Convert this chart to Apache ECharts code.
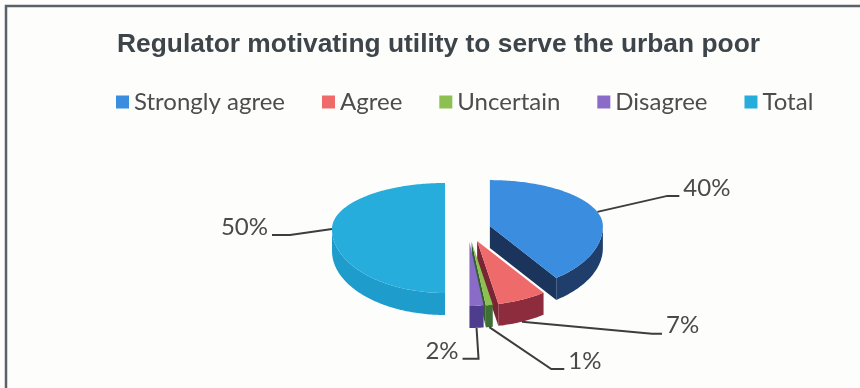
<!DOCTYPE html>
<html>
<head>
<meta charset="utf-8">
<script src="https://cdn.jsdelivr.net/npm/echarts@6/dist/echarts.min.js"></script>
<style>
  html, body { margin: 0; padding: 0; background: #fdfdfc; }
  #chart { width: 860px; height: 388px; }
</style>
</head>
<body>
<div id="chart"></div>
<script>
// Survey responses, share of respondents (%)
const categories = ['Strongly agree', 'Agree', 'Uncertain', 'Disagree', 'Total'];
const shares = [40, 7, 1, 2, 50];
const labelTexts = ['40%', '7%', '1%', '2%', '50%'];
const titleText = 'Regulator motivating utility to serve the urban poor';

// Slice colours: top face, outer wall, cut face
const topColors  = ['#3a8ddf', '#ef6a6a', '#8cc152', '#8a6cc8', '#27addc'];
const wallColors = ['#1f3e6c', '#8c2c3c', '#3f6f37', '#4e3d8c', '#1e9ccc'];
const faceColors = ['#1b345b', '#7a2534', '#365f30', '#45357c', '#1b8fbc'];

// Leader line layout per slice: elbow offset from anchor, then horizontal tail
const leaderLayout = [
  { ex: 70, ey: -16, tail: 12 },
  { ex: 130, ey: 12, tail: 10 },
  { ex: 62, ey: 42, tail: 13 },
  { ex: 2, ey: 31, tail: -16 },
  { ex: -42, ey: 6, tail: -18 }
];

// Projected pie geometry
const PIE = { cx: 468, cy: 229, rx: 113, ryBack: 46, ryFront: 64, depth: 22, explode: 23 };
const total = shares.reduce((a, b) => a + b, 0);
const DEG = Math.PI / 180;

const LABEL_FONT = '24px Lato';
const TITLE_FONT = 'bold 26px "Liberation Sans", Arial, sans-serif';
const TITLE_LEFT = 117, TITLE_WIDTH = 643;

function ry(theta) { return Math.cos(theta) > 0 ? PIE.ryBack : PIE.ryFront; }
function rim(c, theta) {
  return [c[0] + PIE.rx * Math.sin(theta), c[1] - ry(theta) * Math.cos(theta)];
}
function arc(c, a0, a1, dy) {
  const pts = [];
  const n = Math.max(2, Math.ceil((a1 - a0) / DEG));
  for (let i = 0; i <= n; i++) {
    const p = rim(c, a0 + (a1 - a0) * i / n);
    pts.push([p[0], p[1] + (dy || 0)]);
  }
  return pts;
}

function makeRenderer(k) {
  return function (params, api) {
    const value = api.value(0);
    let before = 0;
    for (let i = 0; i < k; i++) before += shares[i];
    const a0 = before / total * 2 * Math.PI;
    const a1 = (before + value) / total * 2 * Math.PI;
    const mid = (a0 + a1) / 2;
    const c = [
      PIE.cx + PIE.explode * Math.sin(mid),
      PIE.cy - PIE.explode * Math.cos(mid) * ry(mid) / PIE.rx
    ];
    const h = PIE.depth;
    const children = [];

    // visible cut faces
    const faceAt = (t) => {
      const p = rim(c, t);
      children.push({
        type: 'polygon',
        shape: { points: [c, p, [p[0], p[1] + h], [c[0], c[1] + h]] },
        style: { fill: faceColors[k] }
      });
    };
    if (Math.sin(a0) < -1e-6) faceAt(a0);
    if (Math.sin(a1) > 1e-6) faceAt(a1);

    // outer wall on the front half
    const w0 = Math.max(a0, 90 * DEG), w1 = Math.min(a1, 270 * DEG);
    if (w1 > w0) {
      const topArc = arc(c, w0, w1, 0);
      const botArc = arc(c, w0, w1, h).reverse();
      children.push({
        type: 'polygon',
        shape: { points: topArc.concat(botArc) },
        style: { fill: wallColors[k] }
      });
    }

    // top face
    children.push({
      type: 'polygon',
      shape: { points: [c].concat(arc(c, a0, a1, 0)) },
      style: { fill: topColors[k] }
    });

    // leader line and value label
    const front = Math.abs(mid - Math.PI) < Math.PI / 4;
    const rp = rim(c, mid);
    const anchor = [rp[0], rp[1] + (front ? h : 0)];
    const L = leaderLayout[k];
    const elbow = [anchor[0] + L.ex, anchor[1] + L.ey];
    const end = [elbow[0] + L.tail, elbow[1]];
    children.push({
      type: 'polyline',
      z2: 10,
      shape: { points: [anchor, elbow, end] },
      style: { stroke: '#3d3d3d', lineWidth: 2, fill: null }
    });
    const right = L.tail > 0;
    children.push({
      type: 'text',
      z2: 10,
      style: {
        text: labelTexts[k],
        x: end[0] + (right ? 4 : -4),
        y: end[1] - 8,
        align: right ? 'left' : 'right',
        verticalAlign: 'middle',
        fill: '#4a4a4a',
        font: LABEL_FONT
      }
    });

    return { type: 'group', children: children };
  };
}

// Narrow the bold title horizontally to fit its line width
const measureCtx = document.createElement('canvas').getContext('2d');
measureCtx.font = TITLE_FONT;
const titleScale = TITLE_WIDTH / measureCtx.measureText(titleText).width;

const chart = echarts.init(document.getElementById('chart'), null, { renderer: 'canvas' });

chart.setOption({
  backgroundColor: '#fdfdfc',
  animation: false,
  legend: {
    data: categories,
    left: 111,
    top: 85,
    icon: 'rect',
    itemWidth: 13,
    itemHeight: 13,
    itemGap: 37,
    textStyle: { fontFamily: 'Lato', fontSize: 24, color: '#4d4d4d' }
  },
  graphic: [{
    type: 'polyline',
    shape: { points: [[6, 388], [6, 6], [860, 6]] },
    style: { stroke: '#5b6168', lineWidth: 2.5, fill: null }
  }, {
    type: 'text',
    x: TITLE_LEFT,
    y: 45,
    scaleX: titleScale,
    style: {
      text: titleText,
      x: 0,
      y: 0,
      font: TITLE_FONT,
      fill: '#3d454a',
      align: 'left',
      verticalAlign: 'middle'
    }
  }],
  series: categories.map((name, k) => ({
    type: 'custom',
    name: name,
    coordinateSystem: 'none',
    itemStyle: { color: topColors[k] },
    renderItem: makeRenderer(k),
    data: [[shares[k]]]
  }))
});
</script>
</body>
</html>
